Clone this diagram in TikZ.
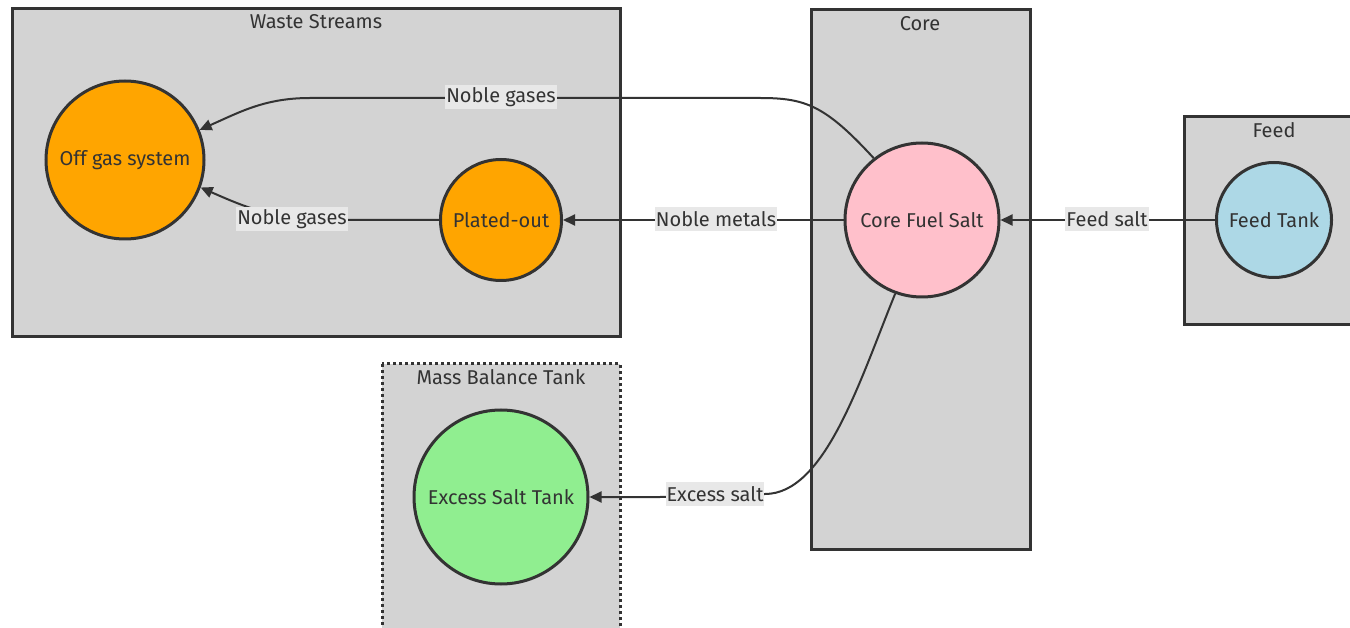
\documentclass[tikz,border=0pt]{standalone}
\usepackage{fontspec}
\setmainfont{Fira Sans}
\usetikzlibrary{arrows.meta}
\definecolor{ink}{HTML}{333333}
\definecolor{clus}{HTML}{D3D3D3}
\definecolor{orng}{HTML}{FFA500}
\definecolor{pnk}{HTML}{FFC0CB}
\definecolor{lblue}{HTML}{ADD8E6}
\definecolor{lgreen}{HTML}{90EE90}
\definecolor{lblbg}{HTML}{E8E8E8}
\tikzset{
  cluster/.style={draw=ink, fill=clus, line width=3pt},
  ctitle/.style={text=ink, font=\fontsize{20}{24}\selectfont, inner sep=0pt},
  proc/.style={circle, draw=ink, line width=3pt, text=ink, font=\fontsize{20}{24}\selectfont, inner sep=0pt},
  flow/.style={draw=ink, line width=2pt, -{Triangle[length=12pt,width=11pt]}},
  elabel/.style={fill=lblbg, text=ink, font=\fontsize{20}{24}\selectfont, inner sep=1pt, minimum height=24pt}
}
\begin{document}
\begin{tikzpicture}[x=1pt,y=-1pt]
\useasboundingbox (0,0) rectangle (1350,628);
\clip (0,0) rectangle (1350,628);
\fill[white] (0,0) rectangle (1350,628);
% clusters
\draw[cluster] (12,9) rectangle (620,337);
\node[ctitle] (tWaste) at (316,22) {Waste Streams};
\draw[cluster] (811,10) rectangle (1030,549);
\node[ctitle] (tCore) at (920,24) {Core};
\draw[cluster] (1184,117) rectangle (1360,325);
\node[ctitle] (tFeed) at (1274,130) {Feed};
\draw[cluster, dash pattern=on 3pt off 3pt] (382,364) rectangle (620,640);
\node[ctitle] (tMass) at (501,377) {Mass Balance Tank};
% nodes
\node[proc, fill=orng, minimum size=158pt] (offgas) at (125,160) {Off gas system};
\node[proc, fill=orng, minimum size=121pt] (plated) at (501,220) {Plated-out};
\node[proc, fill=pnk, minimum size=154pt] (core) at (922,220) {Core Fuel Salt};
\node[proc, fill=lblue, minimum size=115pt] (feed) at (1274,220) {Feed Tank};
\node[proc, fill=lgreen, minimum size=174pt] (excess) at (501,497) {Excess Salt Tank};
% edges
\draw[flow] (core.128) .. controls (825,105) and (805,98) .. (760,98) -- (310,98)
  .. controls (265,98) and (240,112) .. (offgas.22);
\draw[flow] (plated.west) -- (330,220) .. controls (275,220) and (245,207) .. (offgas.-20);
\draw[flow] (core.west) -- (plated.east);
\draw[flow] (feed.west) -- (core.east);
\draw[flow] (core.-110) .. controls (860,380) and (825,494) .. (765,494) -- (660,497) -- (excess.east);
% labels
\node[elabel] (lNG1) at (501,97) {Noble gases};
\node[elabel] (lNG2) at (292,219) {Noble gases};
\node[elabel] (lNM) at (716,219) {Noble metals};
\node[elabel] (lFS) at (1107,219) {Feed salt};
\node[elabel] (lES) at (715,494) {Excess salt};
\end{tikzpicture}
\end{document}
